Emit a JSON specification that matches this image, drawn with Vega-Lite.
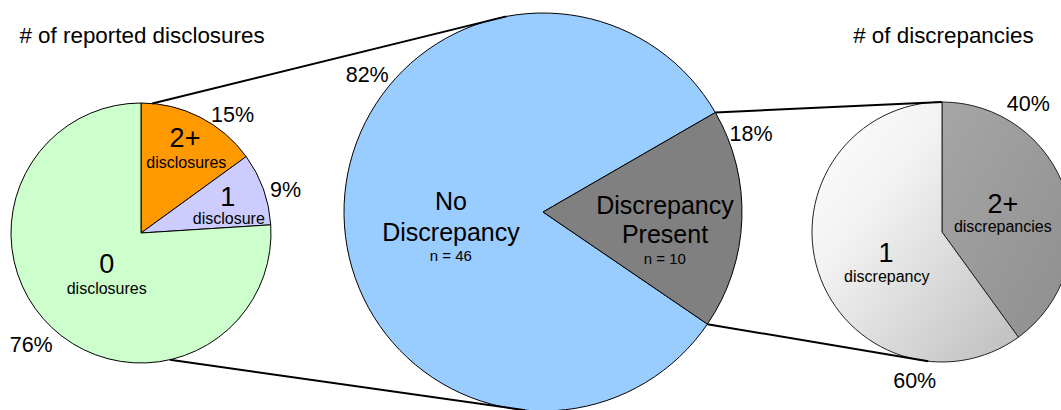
{
  "$schema": "https://vega.github.io/schema/vega-lite/v6.json",
  "width": 1061,
  "height": 410,
  "autosize": {"type": "none"},
  "padding": 0,
  "background": "white",
  "config": {
    "view": {"stroke": null},
    "text": {"font": "Liberation Sans", "fill": "#000", "align": "center", "baseline": "alphabetic"}
  },
  "params": [
    {"name": "lcx", "value": 141},
    {"name": "lcy", "value": 233},
    {"name": "lr", "value": 130},
    {"name": "mcx", "value": 543},
    {"name": "mcy", "value": 212},
    {"name": "mr", "value": 199},
    {"name": "rcx", "value": 942},
    {"name": "rcy", "value": 232},
    {"name": "rr", "value": 130}
  ],
  "datasets": {
    "slices": [
      {"pie": "disclosures", "group": "2+", "label": "disclosures", "share": 15, "pct": 0.15},
      {"pie": "disclosures", "group": "1", "label": "disclosure", "share": 9, "pct": 0.09},
      {"pie": "disclosures", "group": "0", "label": "disclosures", "share": 76, "pct": 0.76},
      {"pie": "outcome", "group": "No Discrepancy", "label": "n = 46", "share": 46, "pct": 0.82},
      {"pie": "outcome", "group": "Discrepancy Present", "label": "n = 10", "share": 10, "pct": 0.18},
      {"pie": "discrepancies", "group": "2+", "label": "discrepancies", "share": 4, "pct": 0.4},
      {"pie": "discrepancies", "group": "1", "label": "discrepancy", "share": 6, "pct": 0.6}
    ],
    "panels": [
      {"pie": "disclosures", "title": "# of reported disclosures"},
      {"pie": "discrepancies", "title": "# of discrepancies"}
    ]
  },
  "data": {"name": "slices"},
  "layer": [
    {
      "transform": [{"filter": "datum.pie === 'disclosures'"}],
      "layer": [
        {
          "mark": {"type": "arc", "x": {"expr": "lcx"}, "y": {"expr": "lcy"}, "outerRadius": {"expr": "lr"}, "stroke": "#000", "strokeWidth": 1},
          "encoding": {
            "theta": {"field": "share", "type": "quantitative", "stack": true, "scale": {"range": [0, 6.283185]}},
            "order": {"field": "group", "type": "nominal", "sort": "descending"},
            "color": {"field": "group", "type": "nominal", "scale": {"domain": ["0", "1", "2+"], "range": ["#CCFFCC", "#CCCCFF", "#FF9900"]}, "legend": null}
          }
        },
        {
          "transform": [{"filter": "datum.group === '2+'"}],
          "layer": [
            {"mark": {"type": "text", "x": {"expr": "lcx + 91.5"}, "y": {"expr": "lcy - 111.3"}, "fontSize": 21.5}, "encoding": {"text": {"field": "pct", "format": ".0%"}}},
            {"mark": {"type": "text", "x": {"expr": "lcx + 44"}, "y": {"expr": "lcy - 85.7"}, "fontSize": 27}, "encoding": {"text": {"field": "group"}}},
            {"mark": {"type": "text", "x": {"expr": "lcx + 45.3"}, "y": {"expr": "lcy - 64.7"}, "fontSize": 16}, "encoding": {"text": {"field": "label"}}}
          ]
        },
        {
          "transform": [{"filter": "datum.group === '1'"}],
          "layer": [
            {"mark": {"type": "text", "x": {"expr": "lcx + 144.5"}, "y": {"expr": "lcy - 35.7"}, "fontSize": 21.5}, "encoding": {"text": {"field": "pct", "format": ".0%"}}},
            {"mark": {"type": "text", "x": {"expr": "lcx + 86.7"}, "y": {"expr": "lcy - 27"}, "fontSize": 27}, "encoding": {"text": {"field": "group"}}},
            {"mark": {"type": "text", "x": {"expr": "lcx + 87.8"}, "y": {"expr": "lcy - 9"}, "fontSize": 16}, "encoding": {"text": {"field": "label"}}}
          ]
        },
        {
          "transform": [{"filter": "datum.group === '0'"}],
          "layer": [
            {"mark": {"type": "text", "x": {"expr": "lcx - 109.8"}, "y": {"expr": "lcy + 118.7"}, "fontSize": 21.5}, "encoding": {"text": {"field": "pct", "format": ".0%"}}},
            {"mark": {"type": "text", "x": {"expr": "lcx - 34.3"}, "y": {"expr": "lcy + 39.7"}, "fontSize": 27}, "encoding": {"text": {"field": "group"}}},
            {"mark": {"type": "text", "x": {"expr": "lcx - 34.3"}, "y": {"expr": "lcy + 61"}, "fontSize": 16}, "encoding": {"text": {"field": "label"}}}
          ]
        }
      ]
    },
    {
      "transform": [{"filter": "datum.pie === 'outcome'"}],
      "layer": [
        {
          "mark": {"type": "arc", "x": {"expr": "mcx"}, "y": {"expr": "mcy"}, "outerRadius": {"expr": "mr"}, "stroke": "#000", "strokeWidth": 1},
          "encoding": {
            "theta": {"field": "share", "type": "quantitative", "stack": true, "scale": {"range": [1.047198, 7.330383]}},
            "order": {"field": "group", "type": "nominal", "sort": "ascending"},
            "color": {"field": "group", "type": "nominal", "scale": {"domain": ["No Discrepancy", "Discrepancy Present"], "range": ["#99CCFF", "#808080"]}, "legend": null}
          }
        },
        {
          "transform": [{"filter": "datum.group === 'No Discrepancy'"}],
          "layer": [
            {"mark": {"type": "text", "x": {"expr": "mcx - 175.8"}, "y": {"expr": "mcy - 130.3"}, "fontSize": 21.5}, "encoding": {"text": {"field": "pct", "format": ".0%"}}},
            {"mark": {"type": "text", "x": {"expr": "mcx - 92"}, "y": {"expr": "mcy - 2"}, "fontSize": 25, "lineBreak": " ", "lineHeight": 30.7}, "encoding": {"text": {"field": "group"}}},
            {"mark": {"type": "text", "x": {"expr": "mcx - 92.2"}, "y": {"expr": "mcy + 48.7"}, "fontSize": 15}, "encoding": {"text": {"field": "label"}}}
          ]
        },
        {
          "transform": [{"filter": "datum.group === 'Discrepancy Present'"}],
          "layer": [
            {"mark": {"type": "text", "x": {"expr": "mcx + 208"}, "y": {"expr": "mcy - 71.3"}, "fontSize": 21.5}, "encoding": {"text": {"field": "pct", "format": ".0%"}}},
            {"mark": {"type": "text", "x": {"expr": "mcx + 122"}, "y": {"expr": "mcy + 2"}, "fontSize": 25, "lineBreak": " ", "lineHeight": 29.3}, "encoding": {"text": {"field": "group"}}},
            {"mark": {"type": "text", "x": {"expr": "mcx + 121.8"}, "y": {"expr": "mcy + 52"}, "fontSize": 15}, "encoding": {"text": {"field": "label"}}}
          ]
        }
      ]
    },
    {
      "transform": [{"filter": "datum.pie === 'discrepancies'"}],
      "layer": [
        {
          "mark": {"type": "arc", "x": {"expr": "rcx"}, "y": {"expr": "rcy"}, "outerRadius": {"expr": "rr"}, "stroke": "#222", "strokeWidth": 1},
          "encoding": {
            "theta": {"field": "share", "type": "quantitative", "stack": true, "scale": {"range": [0, 6.283185]}},
            "order": {"field": "group", "type": "nominal", "sort": "descending"},
            "fill": {
              "condition": {
                "test": "datum.group === '2+'",
                "value": {"gradient": "linear", "x1": 0, "y1": 0, "x2": 1, "y2": 1, "stops": [{"offset": 0, "color": "#a6a6a6"}, {"offset": 1, "color": "#8e8e8e"}]}
              },
              "value": {"gradient": "linear", "x1": 0, "y1": 0, "x2": 1, "y2": 1, "stops": [{"offset": 0, "color": "#ffffff"}, {"offset": 0.35, "color": "#f2f2f2"}, {"offset": 1, "color": "#bdbdbd"}]}
            }
          }
        },
        {
          "transform": [{"filter": "datum.group === '2+'"}],
          "layer": [
            {"mark": {"type": "text", "x": {"expr": "rcx + 86.3"}, "y": {"expr": "rcy - 121.3"}, "fontSize": 21.5}, "encoding": {"text": {"field": "pct", "format": ".0%"}}},
            {"mark": {"type": "text", "x": {"expr": "rcx + 60.8"}, "y": {"expr": "rcy - 18.7"}, "fontSize": 27}, "encoding": {"text": {"field": "group"}}},
            {"mark": {"type": "text", "x": {"expr": "rcx + 60.8"}, "y": {"expr": "rcy - 0.3"}, "fontSize": 16}, "encoding": {"text": {"field": "label"}}}
          ]
        },
        {
          "transform": [{"filter": "datum.group === '1'"}],
          "layer": [
            {"mark": {"type": "text", "x": {"expr": "rcx - 27.3"}, "y": {"expr": "rcy + 156.3"}, "fontSize": 21.5}, "encoding": {"text": {"field": "pct", "format": ".0%"}}},
            {"mark": {"type": "text", "x": {"expr": "rcx - 56"}, "y": {"expr": "rcy + 29.7"}, "fontSize": 27}, "encoding": {"text": {"field": "group"}}},
            {"mark": {"type": "text", "x": {"expr": "rcx - 55.2"}, "y": {"expr": "rcy + 49.7"}, "fontSize": 16}, "encoding": {"text": {"field": "label"}}}
          ]
        }
      ]
    },
    {
      "data": {"name": "panels"},
      "transform": [{"filter": "datum.pie === 'disclosures'"}],
      "mark": {"type": "text", "x": {"expr": "lcx + 1"}, "y": 43, "fontSize": 22.4},
      "encoding": {"text": {"field": "title"}}
    },
    {
      "data": {"name": "panels"},
      "transform": [{"filter": "datum.pie === 'discrepancies'"}],
      "mark": {"type": "text", "x": {"expr": "rcx + 1.4"}, "y": 43.3, "fontSize": 22.4},
      "encoding": {"text": {"field": "title"}}
    },
    {
      "data": {"values": [{"link": "disclosures-top"}]},
      "mark": {"type": "rule", "color": "#000", "strokeWidth": 2},
      "encoding": {
        "x": {"value": {"expr": "lcx + lr * sin(0.087)"}},
        "y": {"value": {"expr": "lcy - lr * cos(0.087)"}},
        "x2": {"value": {"expr": "mcx + mr * sin(-0.185)"}},
        "y2": {"value": {"expr": "mcy - mr * cos(-0.185)"}}
      }
    },
    {
      "data": {"values": [{"link": "disclosures-bottom"}]},
      "mark": {"type": "rule", "color": "#000", "strokeWidth": 2},
      "encoding": {
        "x": {"value": {"expr": "lcx + lr * sin(2.917)"}},
        "y": {"value": {"expr": "lcy - lr * cos(2.917)"}},
        "x2": {"value": {"expr": "mcx + mr * sin(3.232)"}},
        "y2": {"value": {"expr": "mcy - mr * cos(3.232)"}}
      }
    },
    {
      "data": {"values": [{"link": "discrepancies-top"}]},
      "mark": {"type": "rule", "color": "#000", "strokeWidth": 2},
      "encoding": {
        "x": {"value": {"expr": "mcx + mr * sin(1.0472)"}},
        "y": {"value": {"expr": "mcy - mr * cos(1.0472)"}},
        "x2": {"value": {"expr": "rcx"}},
        "y2": {"value": {"expr": "rcy - rr"}}
      }
    },
    {
      "data": {"values": [{"link": "discrepancies-bottom"}]},
      "mark": {"type": "rule", "color": "#000", "strokeWidth": 2},
      "encoding": {
        "x": {"value": {"expr": "mcx + mr * sin(2.1695)"}},
        "y": {"value": {"expr": "mcy - mr * cos(2.1695)"}},
        "x2": {"value": {"expr": "rcx + rr * sin(3.248)"}},
        "y2": {"value": {"expr": "rcy - rr * cos(3.248)"}}
      }
    }
  ],
  "resolve": {"scale": {"theta": "independent", "color": "independent"}}
}
